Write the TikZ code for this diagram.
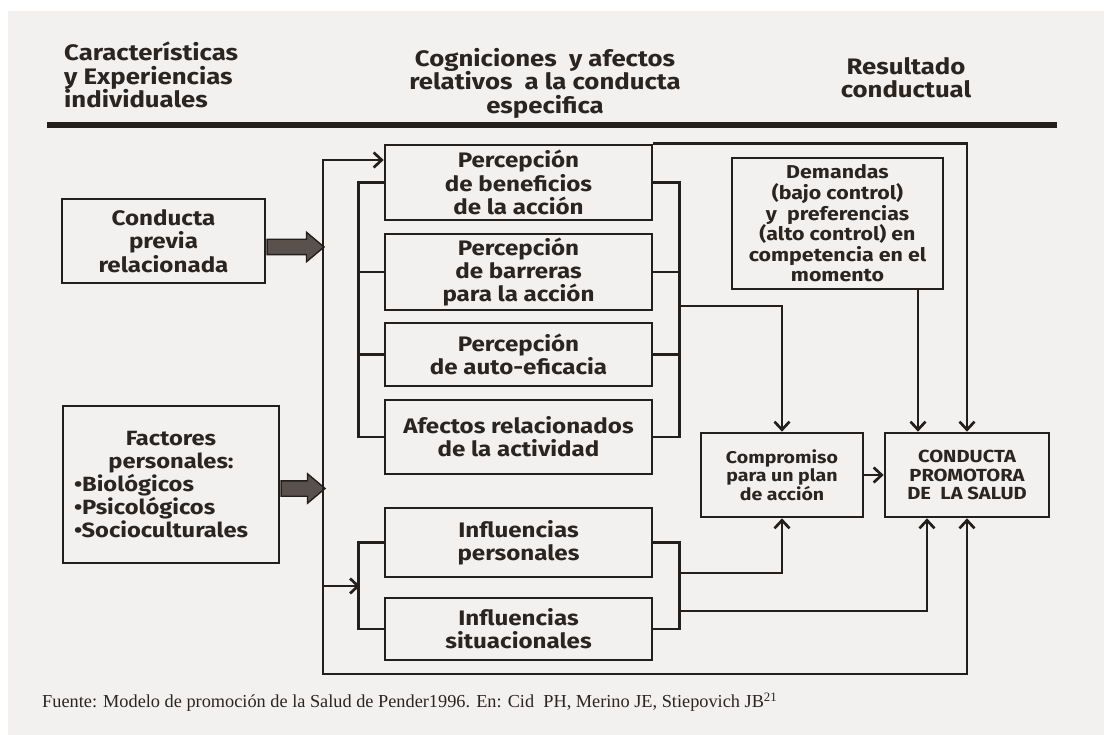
\documentclass[tikz,border=0pt]{standalone}
\usepackage{fontspec}
\setmainfont{Fira Sans}
\newfontfamily\anchafont[FakeStretch=1.15]{Fira Sans}
\newfontfamily\fuentefont{Liberation Serif}
\usetikzlibrary{arrows.meta,shapes.arrows}
\definecolor{fondo}{HTML}{F2F1EF}
\definecolor{linea}{HTML}{231F1C}
\definecolor{texto}{HTML}{2B2522}
\definecolor{flecha}{HTML}{5B514C}
\tikzset{
  caja/.style={draw=linea, line width=2.7pt, fill=fondo, align=center, text=texto,
    font=\anchafont\bfseries\fontsize{21}{23.3}\selectfont, inner sep=0pt},
  titulo/.style={text=texto, font=\anchafont\bfseries\fontsize{22.4}{23.5}\selectfont, inner sep=0pt},
  conn/.style={draw=linea, line width=2.7pt},
  punta/.style={conn, -{Straight Barb[length=8pt,width=15pt]}},
  bloque/.style={single arrow, draw=linea, fill=flecha, line width=1.4pt, inner xsep=0pt,
    inner ysep=7pt, minimum width=28pt, single arrow head extend=7pt,
    single arrow tip angle=80, anchor=tail}
}
\begin{document}
\begin{tikzpicture}[x=1pt,y=-1pt]
\useasboundingbox (0,0) rectangle (1104,735);
\fill[white] (0,0) rectangle (1104,735);
\fill[fondo] (8,11) rectangle (1104,735);

% titulos
\node[titulo, align=left, anchor=north west] (hcar) at (64,42) {Características\\y Experiencias\\individuales};
\node[titulo, align=center, anchor=north] (hcog) at (545,48) {Cogniciones\ \ y afectos\\relativos\ \ a la conducta\\especifica};
\node[titulo, align=center, anchor=north] (hres) at (906,57) {Resultado\\conductual};
\draw[linea, line width=5.5pt] (47,125) -- (1057,125);

% cajas
\node[caja, minimum width=203pt, minimum height=84pt] (previa) at (163.5,241) {Conducta\\previa\\relacionada};
\node[caja, font=\anchafont\bfseries\fontsize{20.6}{23.2}\selectfont, minimum width=216pt, minimum height=157pt] (factores) at (171,484.5)
  {\parbox{194pt}{\centering Factores\\personales:\par\raggedright •Biológicos\\•Psicológicos\\•Socioculturales}};

\node[caja, minimum width=267pt, minimum height=75pt] (benef) at (518.5,182.5) {Percepción\\de beneficios\\de la acción};
\node[caja, minimum width=267pt, minimum height=76pt] (barreras) at (518.5,272) {Percepción\\de barreras\\para la acción};
\node[caja, minimum width=267pt, minimum height=63pt] (autoef) at (518.5,354.5) {Percepción\\de auto-eficacia};
\node[caja, minimum width=267pt, minimum height=74pt] (afectos) at (518.5,437) {Afectos relacionados\\de la actividad};
\node[caja, minimum width=267pt, minimum height=69pt] (inflpers) at (518.5,542.5) {Influencias\\personales};
\node[caja, minimum width=267pt, minimum height=62pt] (inflsit) at (518.5,629) {Influencias\\situacionales};

\node[caja, font=\anchafont\bfseries\fontsize{18.6}{20.6}\selectfont, minimum width=211pt, minimum height=131pt] (demandas) at (837.5,223.5)
  {Demandas\\(bajo control)\\y\ \ preferencias\\(alto control) en\\competencia en el\\momento};
\node[caja, font=\anchafont\bfseries\fontsize{17}{18.5}\selectfont, minimum width=162pt, minimum height=84pt] (compromiso) at (782,475)
  {Compromiso\\para un plan\\de acción};
\node[caja, font=\anchafont\bfseries\fontsize{17.5}{18.5}\selectfont, minimum width=164pt, minimum height=84pt] (conducta) at (967,475)
  {CONDUCTA\\PROMOTORA\\DE\ \ LA SALUD};

\node[anchor=west, font=\fuentefont\fontsize{18.3}{20}\selectfont, text=texto, inner sep=0pt] (fuente) at (42,702)
  {Fuente: Modelo de promoción de la Salud de Pender1996. En: Cid\ \ PH, Merino JE, Stiepovich JB\textsuperscript{21}};

% flechas gruesas
\node[bloque, minimum height=57pt] (flecha1) at ([yshift=-6pt]previa.east) {};
\node[bloque, minimum height=44pt] (flecha2) at ([yshift=-4pt]factores.east) {};

% tronco
\coordinate (troncoA) at (323,160);
\coordinate (troncoB) at (323,674);
\draw[punta] (troncoB) -- (troncoA) -- (troncoA -| benef.west);
\draw[punta, line cap=rect] (troncoB) -| (conducta.south);
\draw[punta] (benef.north east) -| (conducta.north);

% corchetes
\draw[conn] (benef.west) -- ++(-25,0) |- (afectos.west);
\draw[conn] (barreras.west) -- ++(-25,0);
\draw[conn] (autoef.west) -- ++(-25,0);
\draw[conn] (benef.east) -- ++(26,0) |- (afectos.east);
\draw[conn] (barreras.east) -- ++(26,0);
\draw[conn] (autoef.east) -- ++(26,0);
\draw[conn] (inflpers.west) -- ++(-25,0) |- (inflsit.west);
\draw[conn] (inflpers.east) -- ++(26,0) |- (inflsit.east);

\coordinate (derA) at (678,306);
\coordinate (izqI) at (360,586);
\coordinate (derI1) at (678,573);
\coordinate (derI2) at (678,611);
\draw[punta] (derA) -| (compromiso.north);
\draw[punta] (izqI -| troncoA) -- (izqI);
\draw[punta] (derI1) -| (compromiso.south);
\draw[punta] (derI2) -| ([xshift=-40pt]conducta.south);
\draw[punta] ([xshift=-49pt]conducta.north |- demandas.south) -- ([xshift=-49pt]conducta.north);
\draw[punta] (compromiso.east) -- (conducta.west);
\end{tikzpicture}
\end{document}
